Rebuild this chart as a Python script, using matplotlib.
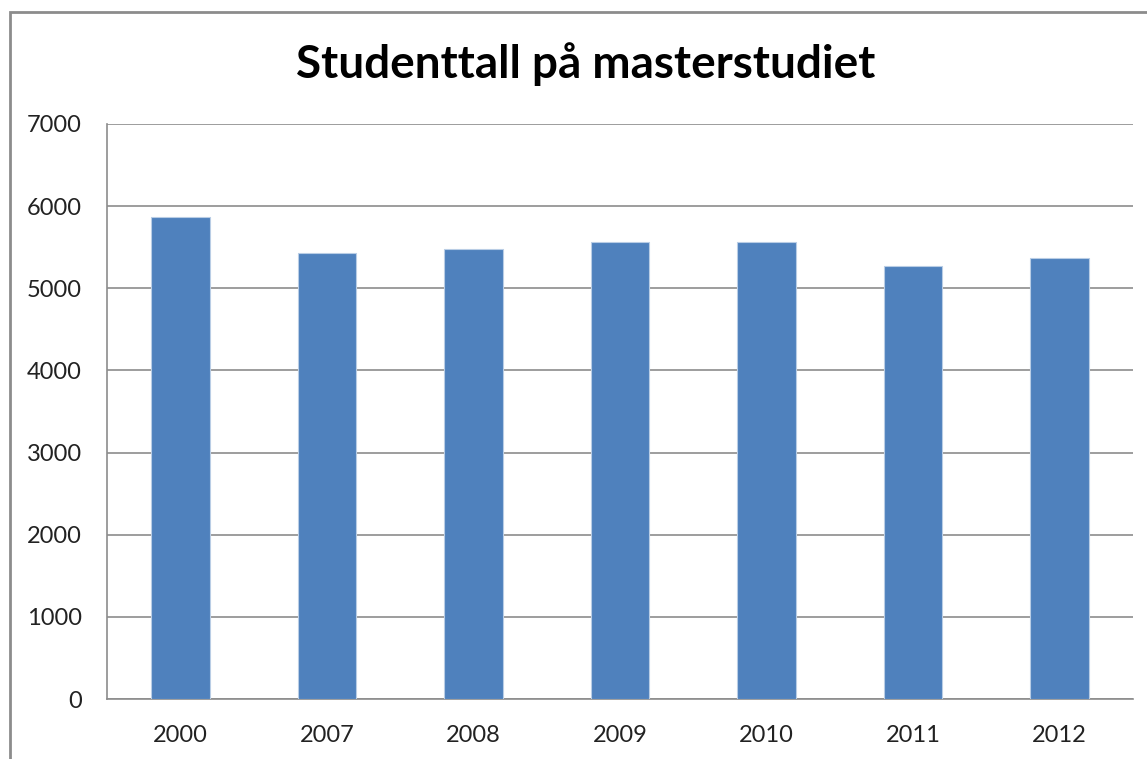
import matplotlib
matplotlib.use("Agg")
import matplotlib.pyplot as plt
from matplotlib.patches import Rectangle

# data
years = ["2000", "2007", "2008", "2009", "2010", "2011", "2012"]
students = [5865, 5430, 5475, 5565, 5560, 5275, 5365]
y_ticks = [0, 1000, 2000, 3000, 4000, 5000, 6000, 7000]

plt.rcParams["font.family"] = ["Lato", "DejaVu Sans"]

fig = plt.figure(figsize=(11.47, 7.59), dpi=100)
ax = fig.add_axes([107 / 1147, 1 - 699 / 759, 1026 / 1147, 575 / 759])

# outer chart border (right and bottom run off the picture)
fig.patches.append(Rectangle((10 / 1147, -0.1), 1.2, 1.1 - 12 / 759,
                             transform=fig.transFigure, fill=False,
                             edgecolor="#8c8c8c", linewidth=2, clip_on=False))

x = range(len(years))
ax.bar(x, students, width=0.4, color="#4F81BD", edgecolor="#B9CDE5", linewidth=0.8, zorder=3)

ax.set_xlim(-0.5, len(years) - 0.5)
ax.set_ylim(0, 7000)
ax.set_yticks(y_ticks)
ax.set_xticks(list(x))
ax.set_xticklabels(years)
ax.grid(axis="y", color="#8c8c8c", linewidth=1.2, zorder=0)
ax.tick_params(length=0, labelsize=17, colors="#222222")
ax.tick_params(axis="y", pad=18)
ax.tick_params(axis="x", pad=19)
for s in ["top", "right"]:
    ax.spines[s].set_visible(False)
for s in ["left", "bottom"]:
    ax.spines[s].set_color("#8c8c8c")
    ax.spines[s].set_linewidth(1.2)

fig.text(586 / 1147, 1 - 64 / 759, "Studenttall på masterstudiet",
         ha="center", va="center", fontsize=33, fontweight="bold")

fig.savefig("out.png", dpi=100)
